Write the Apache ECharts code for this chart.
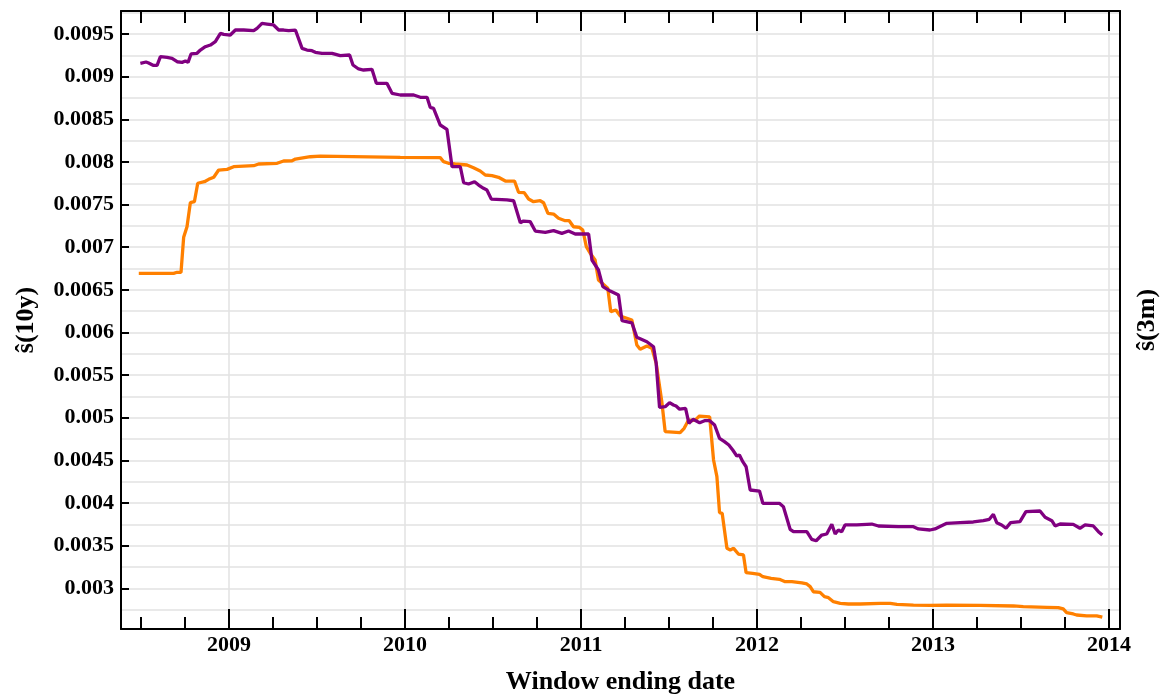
<!DOCTYPE html>
<html>
<head>
<meta charset="utf-8">
<script src="https://cdn.jsdelivr.net/npm/echarts@6/dist/echarts.min.js"></script>
<style>
  html, body { margin: 0; padding: 0; background: #fff; }
  #chart { width: 1169px; height: 700px; }
</style>
</head>
<body>
<div id="chart"></div>
<script>
// window ending date (decimal years) and estimates
const dates10y = [
  2008.496, 2008.528, 2008.543, 2008.568, 2008.591, 2008.610, 2008.648, 2008.676, 2008.705, 2008.733,
  2008.752, 2008.767, 2008.784, 2008.818, 2008.837, 2008.865, 2008.894, 2008.922, 2008.951, 2008.970,
  2009.007, 2009.036, 2009.083, 2009.140, 2009.159, 2009.187, 2009.216, 2009.253, 2009.282, 2009.310,
  2009.339, 2009.377, 2009.415, 2009.443, 2009.471, 2009.490, 2009.528, 2009.585, 2009.594, 2009.632,
  2009.685, 2009.704, 2009.736, 2009.764, 2009.812, 2009.837, 2009.897, 2009.926, 2009.973, 2010.049,
  2010.087, 2010.125, 2010.143, 2010.162, 2010.200, 2010.238, 2010.267, 2010.314, 2010.333, 2010.361,
  2010.395, 2010.418, 2010.446, 2010.465, 2010.490, 2010.579, 2010.617, 2010.655, 2010.673, 2010.711,
  2010.740, 2010.797, 2010.844, 2010.891, 2010.929, 2010.967, 2011.043, 2011.062, 2011.099, 2011.124,
  2011.166, 2011.213, 2011.233, 2011.289, 2011.317, 2011.374, 2011.412, 2011.427, 2011.446, 2011.478,
  2011.503, 2011.525, 2011.540, 2011.560, 2011.594, 2011.613, 2011.636, 2011.674, 2011.702, 2011.731,
  2011.759, 2011.768, 2011.787, 2011.815, 2011.840, 2011.862, 2011.885, 2011.900, 2011.919, 2011.938,
  2011.961, 2012.014, 2012.033, 2012.127, 2012.150, 2012.188, 2012.207, 2012.283, 2012.311, 2012.336,
  2012.368, 2012.396, 2012.425, 2012.444, 2012.462, 2012.481, 2012.500, 2012.567, 2012.652, 2012.690,
  2012.803, 2012.889, 2012.917, 2012.983, 2013.011, 2013.078, 2013.154, 2013.229, 2013.286, 2013.320,
  2013.343, 2013.362, 2013.390, 2013.415, 2013.441, 2013.494, 2013.528, 2013.608, 2013.637, 2013.675,
  2013.694, 2013.722, 2013.797, 2013.835, 2013.864, 2013.911, 2013.940, 2013.962
];
const values10y = [
  0.009156, 0.009172, 0.009160, 0.009133, 0.009133, 0.009234, 0.009227, 0.009215, 0.009175, 0.009168,
  0.009183, 0.009168, 0.009266, 0.009274, 0.009312, 0.009351, 0.009371, 0.009410, 0.009508, 0.009496,
  0.009488, 0.009547, 0.009547, 0.009539, 0.009567, 0.009625, 0.009617, 0.009606, 0.009547, 0.009547,
  0.009539, 0.009547, 0.009332, 0.009312, 0.009304, 0.009285, 0.009274, 0.009274, 0.009254, 0.009246,
  0.009254, 0.009137, 0.009090, 0.009078, 0.009086, 0.008922, 0.008922, 0.008805, 0.008785, 0.008785,
  0.008758, 0.008758, 0.008640, 0.008629, 0.008433, 0.008383, 0.007944, 0.007944, 0.007756, 0.007741,
  0.007768, 0.007729, 0.007691, 0.007671, 0.007565, 0.007554, 0.007545, 0.007287, 0.007307, 0.007300,
  0.007190, 0.007175, 0.007194, 0.007163, 0.007190, 0.007155, 0.007155, 0.006850, 0.006733, 0.006537,
  0.006486, 0.006439, 0.006138, 0.006114, 0.005943, 0.005892, 0.005833, 0.005638, 0.005122, 0.005130,
  0.005177, 0.005150, 0.005138, 0.005100, 0.005111, 0.004935, 0.004982, 0.004942, 0.004966, 0.004966,
  0.004915, 0.004915, 0.004759, 0.004720, 0.004681, 0.004622, 0.004552, 0.004564, 0.004485, 0.004426,
  0.004153, 0.004141, 0.003997, 0.003997, 0.003957, 0.003692, 0.003664, 0.003664, 0.003574, 0.003558,
  0.003625, 0.003637, 0.003751, 0.003637, 0.003684, 0.003664, 0.003743, 0.003743, 0.003754, 0.003731,
  0.003723, 0.003723, 0.003696, 0.003684, 0.003696, 0.003762, 0.003770, 0.003778, 0.003793, 0.003809,
  0.003868, 0.003770, 0.003743, 0.003704, 0.003770, 0.003782, 0.003899, 0.003907, 0.003833, 0.003793,
  0.003731, 0.003754, 0.003750, 0.003704, 0.003743, 0.003731, 0.003664, 0.003625
];

const dates3m = [
  2008.487, 2008.685, 2008.705, 2008.727, 2008.742, 2008.761, 2008.780, 2008.803, 2008.822, 2008.860,
  2008.884, 2008.913, 2008.941, 2008.989, 2009.026, 2009.140, 2009.168, 2009.273, 2009.310, 2009.358,
  2009.377, 2009.462, 2009.519, 2009.973, 2010.200, 2010.219, 2010.247, 2010.285, 2010.352, 2010.389,
  2010.427, 2010.456, 2010.494, 2010.531, 2010.570, 2010.622, 2010.645, 2010.677, 2010.702, 2010.730,
  2010.768, 2010.787, 2010.812, 2010.844, 2010.872, 2010.910, 2010.933, 2010.957, 2010.991, 2011.010,
  2011.030, 2011.052, 2011.080, 2011.090, 2011.099, 2011.152, 2011.169, 2011.198, 2011.223, 2011.289,
  2011.317, 2011.336, 2011.374, 2011.403, 2011.427, 2011.459, 2011.478, 2011.563, 2011.586, 2011.611,
  2011.630, 2011.653, 2011.673, 2011.731, 2011.753, 2011.772, 2011.787, 2011.802, 2011.829, 2011.848,
  2011.867, 2011.894, 2011.923, 2011.938, 2011.975, 2012.014, 2012.033, 2012.080, 2012.127, 2012.160,
  2012.198, 2012.255, 2012.283, 2012.302, 2012.320, 2012.358, 2012.383, 2012.406, 2012.434, 2012.473,
  2012.519, 2012.586, 2012.700, 2012.757, 2012.795, 2012.889, 2012.983, 2013.078, 2013.268, 2013.457,
  2013.513, 2013.646, 2013.712, 2013.740, 2013.759, 2013.797, 2013.816, 2013.873, 2013.930, 2013.962
];
const values3m = [
  0.006694, 0.006694, 0.006706, 0.006706, 0.007116, 0.007240, 0.007522, 0.007534, 0.007750, 0.007768,
  0.007796, 0.007820, 0.007905, 0.007913, 0.007944, 0.007956, 0.007976, 0.007984, 0.008011, 0.008014,
  0.008034, 0.008061, 0.008069, 0.008054, 0.008050, 0.008003, 0.007984, 0.007976, 0.007964, 0.007932,
  0.007894, 0.007847, 0.007839, 0.007820, 0.007776, 0.007776, 0.007644, 0.007640, 0.007565, 0.007534,
  0.007545, 0.007522, 0.007397, 0.007389, 0.007339, 0.007311, 0.007311, 0.007240, 0.007233, 0.007202,
  0.007006, 0.006929, 0.006850, 0.006850, 0.006615, 0.006518, 0.006244, 0.006264, 0.006193, 0.006147,
  0.005853, 0.005803, 0.005841, 0.005815, 0.005638, 0.005188, 0.004837, 0.004825, 0.004876, 0.004974,
  0.004966, 0.004981, 0.005020, 0.005010, 0.004505, 0.004309, 0.003887, 0.003880, 0.003469, 0.003450,
  0.003469, 0.003402, 0.003391, 0.003183, 0.003176, 0.003164, 0.003136, 0.003117, 0.003106, 0.003078,
  0.003078, 0.003063, 0.003051, 0.003020, 0.002960, 0.002953, 0.002902, 0.002890, 0.002843, 0.002824,
  0.002816, 0.002816, 0.002824, 0.002824, 0.002812, 0.002804, 0.002800, 0.002804, 0.002800, 0.002793,
  0.002785, 0.002777, 0.002773, 0.002758, 0.002714, 0.002699, 0.002687, 0.002676, 0.002676, 0.002661
];

const xMin = 2008.386;
const xMax = 2014.0625;
const yMin = 0.002523;
const yMax = 0.00977;

const font = '"Liberation Serif", "DejaVu Serif", serif';
const gridColor = "#e2e2e2";

function pairs(xs, ys) {
  return xs.map((x, i) => [x, ys[i]]);
}

function yLabel(v) {
  const k = v / 0.0005;
  if (Math.abs(k - Math.round(k)) > 1e-6 || v < 0.0029) return "";
  return String(parseFloat(v.toFixed(5)));
}

function xLabel(v) {
  return Math.abs(v - Math.round(v)) < 1e-6 ? String(Math.round(v)) : "";
}

const chart = echarts.init(document.getElementById("chart"));

const baseX = {
  type: "value",
  min: xMin,
  max: xMax,
  minInterval: 1,
  maxInterval: 1,
  axisLine: { show: true, onZero: false, lineStyle: { color: "#000", width: 2 } },
  axisTick: { show: true, inside: true, length: 20, lineStyle: { color: "#000", width: 2 } },
  minorTick: { show: true, splitNumber: 4, length: 12, lineStyle: { color: "#000", width: 2 } }
};

chart.setOption({
  animation: false,
  backgroundColor: "#fff",
  grid: { left: 121, right: 49, top: 11, bottom: 70 },
  xAxis: [
    Object.assign({}, baseX, {
      position: "bottom",
      axisLabel: { formatter: xLabel, color: "#000", fontFamily: font, fontWeight: "bold", fontSize: 22, margin: 5 },
      splitLine: { show: true, lineStyle: { color: gridColor, width: 1.5 } },
      name: "Window ending date",
      nameLocation: "middle",
      nameGap: 40,
      nameTextStyle: { color: "#000", fontFamily: font, fontWeight: "bold", fontSize: 26 }
    }),
    Object.assign({}, baseX, {
      position: "top",
      axisLabel: { show: false },
      splitLine: { show: false }
    })
  ],
  yAxis: [
    {
      type: "value",
      position: "left",
      min: yMin,
      max: yMax,
      minInterval: 0.0005,
      maxInterval: 0.0005,
      axisLine: { show: true, onZero: false, lineStyle: { color: "#000", width: 2 } },
      axisTick: { show: true, inside: true, length: 8, lineStyle: { color: "#000", width: 2 } },
      minorTick: { show: false, splitNumber: 2 },
      axisLabel: { formatter: yLabel, color: "#000", fontFamily: font, fontWeight: "bold", fontSize: 22, margin: 7 },
      splitLine: { show: true, lineStyle: { color: gridColor, width: 1.5 } },
      minorSplitLine: { show: true, lineStyle: { color: gridColor, width: 1.5 } },
      name: "ŝ(10y)",
      nameLocation: "middle",
      nameRotate: 90,
      nameGap: 82,
      nameTextStyle: { color: "#000", fontFamily: font, fontWeight: "bold", fontSize: 26 }
    },
    {
      type: "value",
      position: "right",
      min: yMin,
      max: yMax,
      axisLine: { show: true, onZero: false, lineStyle: { color: "#000", width: 2 } },
      axisTick: { show: false },
      axisLabel: { show: false },
      splitLine: { show: false },
      name: "ŝ(3m)",
      nameLocation: "middle",
      nameRotate: 90,
      nameGap: 14,
      nameTextStyle: { color: "#000", fontFamily: font, fontWeight: "bold", fontSize: 26 }
    }
  ],
  series: [
    {
      name: "3m",
      type: "line",
      xAxisIndex: 0,
      yAxisIndex: 0,
      data: pairs(dates3m, values3m),
      showSymbol: false,
      lineStyle: { color: "#ff8000", width: 3.3 },
      itemStyle: { color: "#ff8000" }
    },
    {
      name: "10y",
      type: "line",
      xAxisIndex: 0,
      yAxisIndex: 0,
      data: pairs(dates10y, values10y),
      showSymbol: false,
      lineStyle: { color: "#800080", width: 3.3 },
      itemStyle: { color: "#800080" }
    }
  ]
});
</script>
</body>
</html>
